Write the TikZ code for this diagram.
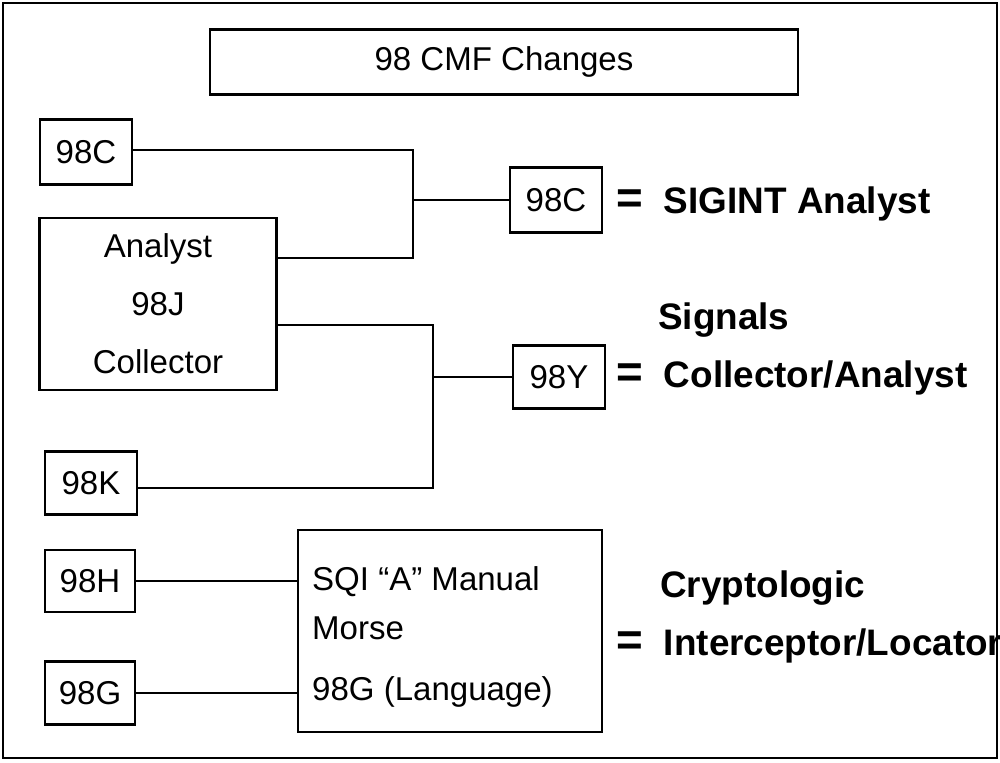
\documentclass[tikz,border=0pt]{standalone}
\usepackage{fontspec}
\setmainfont{Liberation Sans}
\usetikzlibrary{positioning}
\tikzset{
  box/.style={draw,line width=1.6pt,inner sep=0pt},
  link/.style={draw,line width=1.6pt},
  lbl/.style={font=\fontsize{18.8}{22}\selectfont},
  big/.style={font=\fontsize{21}{25}\selectfont\bfseries,anchor=west}
}
\begin{document}
\begin{tikzpicture}[x=0.02cm,y=-0.02cm]
  \useasboundingbox (0,0) rectangle (1000,762);
  \draw[line width=1.5pt] (3,3) rectangle (997,758);
  % boxes
  \node[box,lbl,minimum width=11.76cm,minimum height=1.3cm] (title) at (504,62) {98 CMF Changes};
  \node[box,lbl,minimum width=1.84cm,minimum height=1.3cm] (c1) at (86,152) {98C};
  \node[box,lbl,minimum width=4.74cm,minimum height=3.44cm,align=center] (j) at (158,304) {Analyst\\[11pt]98J\\[11pt]Collector};
  \node[box,lbl,minimum width=1.84cm,minimum height=1.26cm] (k) at (91,483) {98K};
  \node[box,lbl,minimum width=1.8cm,minimum height=1.24cm] (h) at (90,581) {98H};
  \node[box,lbl,minimum width=1.8cm,minimum height=1.26cm] (g) at (90,693) {98G};
  \node[box,minimum width=6.08cm,minimum height=4.04cm] (sqi) at (450,631) {};
  \node[lbl,anchor=west] (sqi1) at (306,582) {SQI “A” Manual};
  \node[lbl,anchor=west] (sqi2) at (306,628) {Morse};
  \node[lbl,anchor=west] (sqi3) at (306,692) {98G (Language)};
  \node[box,lbl,minimum width=1.84cm,minimum height=1.3cm] (c2) at (556,200) {98C};
  \node[box,lbl,minimum width=1.84cm,minimum height=1.26cm] (y) at (559,377) {98Y};
  % merges
  \coordinate (m1) at (413,200);
  \coordinate (m2) at (433,377);
  \draw[link] (c1.east |- 0,150) -| (m1) |- (j.east |- 0,258);
  \draw[link] (m1) -- (c2);
  \draw[link] (j.east |- 0,325) -| (m2) |- (k.east |- 0,488);
  \draw[link] (m2) -- (y);
  \draw[link] (h) -- (sqi.west |- h);
  \draw[link] (g) -- (sqi.west |- g);
  % results
  \node[big] (r1) at (610,204) {\fontsize{26}{26}\selectfont=\hspace{12pt}\fontsize{21}{25}\selectfont SIGINT Analyst};
  \node[big] (r2a) at (652,320) {Signals};
  \node[big] (r2) at (610,378) {\fontsize{26}{26}\selectfont=\hspace{12pt}\fontsize{21}{25}\selectfont Collector/Analyst};
  \node[big] (r3a) at (654,588) {Cryptologic};
  \node[big] (r3) at (610,646) {\fontsize{26}{26}\selectfont=\hspace{12pt}\fontsize{21}{25}\selectfont Interceptor/Locator};
\end{tikzpicture}
\end{document}
